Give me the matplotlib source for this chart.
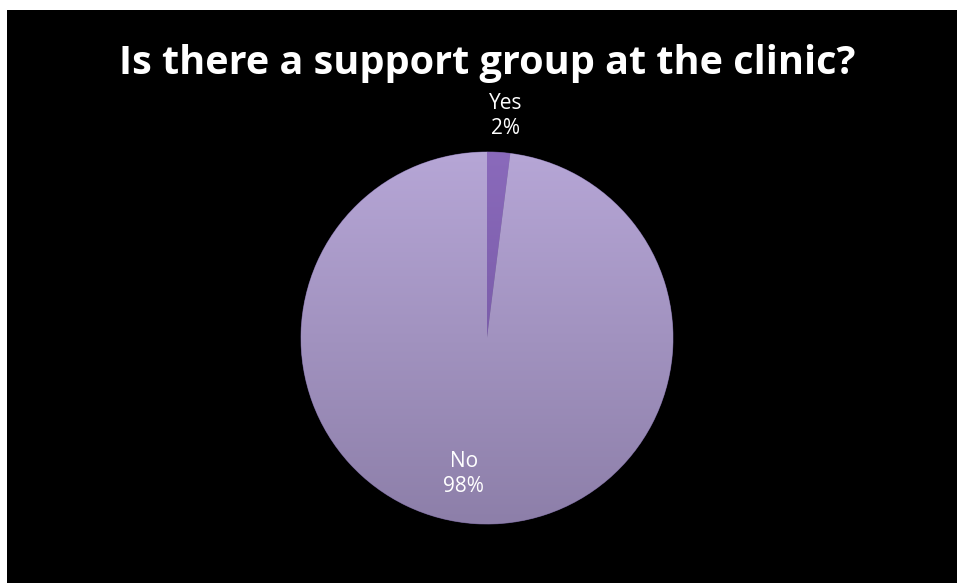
import matplotlib.pyplot as plt
import numpy as np
from matplotlib.patches import Rectangle
from matplotlib.colors import LinearSegmentedColormap

# Daten
labels = ["Yes", "No"]
values = [2, 98]
colors = ["#7f5fae", "#a797c8"]
# Verlauf (oben -> unten) fuer die Flaechen
shades = [("#8a6abb", "#6c4f99"), ("#b6a6d6", "#8d7fa9")]

fig = plt.figure(figsize=(9.57, 5.83), dpi=100)
fig.patch.set_facecolor("white")
# schwarzer Hintergrund (weisser Rand oben/links)
fig.patches.append(Rectangle((7 / 957, 0), 1, 1 - 10 / 583, transform=fig.transFigure,
                             facecolor="black", edgecolor="none", zorder=-10))

ax = fig.add_axes([301 / 957, 59 / 583, 372 / 957, 372 / 583])
ax.set_facecolor("none")
wedges, _ = ax.pie(values, colors=colors, startangle=90, counterclock=False,
                   radius=1, wedgeprops=dict(edgecolor="#5e5080", linewidth=0.6))

grad = np.linspace(0, 1, 256).reshape(-1, 1)
for w, (c_top, c_bot) in zip(wedges, shades):
    cmap = LinearSegmentedColormap.from_list("g", [c_top, c_bot])
    im = ax.imshow(grad, cmap=cmap, extent=[-1, 1, -1, 1], aspect="auto",
                   origin="upper", zorder=w.get_zorder() + 0.1)
    im.set_clip_path(w)

ax.set_xlim(-1, 1)
ax.set_ylim(-1, 1)
ax.set_aspect("equal")
ax.axis("off")

# Beschriftungen
label_pos = [(0.102, 1.194), (-0.124, -0.731)]
for lab, val, (x, y) in zip(labels, values, label_pos):
    ax.text(x, y, lab + "\n" + str(val) + "%", ha="center", va="center",
            color="white", fontsize=15, family="Open Sans", linespacing=1.2,
            zorder=5, clip_on=False)

fig.text(487 / 957, 1 - 74 / 583, "Is there a support group at the clinic?",
         ha="center", va="baseline", color="white", fontsize=28.5,
         fontweight="bold", family="Open Sans")

fig.savefig("out.png", dpi=100)
